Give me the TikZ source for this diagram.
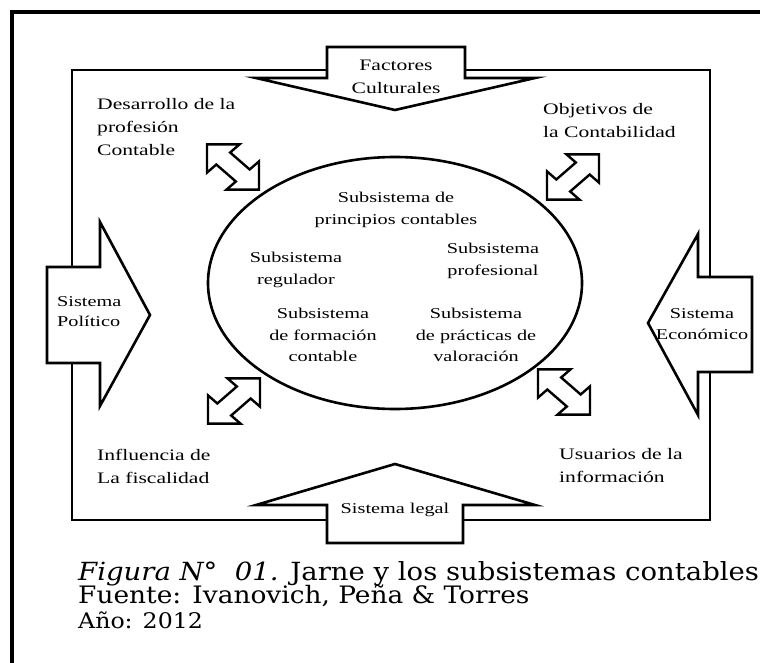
\documentclass[tikz,border=0pt]{standalone}
\usepackage{fontspec}
\setmainfont{DejaVu Serif}
\newfontfamily\diagfont[FakeStretch=1.35]{Liberation Serif}
\newfontfamily\capfont[FakeStretch=1.1]{DejaVu Serif}
\usepackage{tikz}
\usetikzlibrary{shapes.geometric}

\tikzset{
    pics/dblarrow/.style={code={
        \draw[fill=white,line width=2.4pt,line join=miter]
            (-32,0) -- (-12,20) -- (-12,8.5) -- (12,8.5) -- (12,20) -- (32,0)
            -- (12,-20) -- (12,-8.5) -- (-12,-8.5) -- (-12,-20) -- cycle;
    }}
}

\begin{document}
\begin{tikzpicture}[x=1pt,y=-1pt,
        innerframe/.style={draw,line width=2.6pt},
        blockarr/.style={draw,fill=white,line width=2.6pt,line join=miter},
        lbl/.style={font=\diagfont\fontsize{16}{23}\selectfont,inner sep=0pt,align=left},
        subtxt/.style={font=\diagfont\fontsize{15}{21.5}\selectfont,inner sep=0pt,align=center},
        captxt/.style={anchor=base west,inner sep=0pt}]
        \useasboundingbox (0,0) rectangle (760,663);

        % outer page frame
        \draw[line width=4.6pt] (12,663) -- (12,12) -- (760,12);

        \draw[innerframe] (72,70) rectangle (710,520);

        % block arrows of the four systems
        \draw[blockarr] (327,47) -- (465,47) -- (465,78) -- (535,78) -- (395,110) -- (256,78) -- (327,78) -- cycle;
        \draw[blockarr] (327,543) -- (463,543) -- (463,505) -- (535,505) -- (395,464) -- (256,505) -- (327,505) -- cycle;
        \draw[blockarr] (47,267) -- (100,267) -- (100,222) -- (150,315) -- (100,406) -- (100,363) -- (47,363) -- cycle;
        \draw[blockarr] (752,277) -- (698,277) -- (698,234) -- (648,323) -- (698,415) -- (698,372) -- (752,372) -- cycle;

        \node[lbl,align=center] (factores) at (396,77) {Factores\\Culturales};
        \node[lbl,anchor=west,font=\diagfont\fontsize{15}{20}\selectfont] (politico) at (57,312) {Sistema\\Político};
        \node[lbl,align=center,font=\diagfont\fontsize{15}{21}\selectfont] (economico) at (702,324) {Sistema\\Económico};
        \node[lbl,font=\diagfont\fontsize{15}{20}\selectfont] (legal) at (395,510) {Sistema legal};

        % accounting system
        \node[draw,ellipse,line width=2.6pt,minimum width=374pt,minimum height=252pt,inner sep=0pt] (contable) at (395,283) {};
        \node[subtxt] (principios) at (396,210) {Subsistema de\\principios contables};
        \node[subtxt] (regulador) at (296,270) {Subsistema\\regulador};
        \node[subtxt] (profesional) at (493,261) {Subsistema\\profesional};
        \node[subtxt] (formacion) at (323,335) {Subsistema\\de formación\\contable};
        \node[subtxt] (valoracion) at (476,335) {Subsistema\\de prácticas de\\valoración};

        \pic[xscale=1.15,rotate=-45] (arrNW) at (233,167) {dblarrow};
        \pic[xscale=1.15,rotate=45] (arrNE) at (573,177) {dblarrow};
        \pic[xscale=1.15,rotate=45] (arrSW) at (234,401) {dblarrow};
        \pic[xscale=1.15,rotate=-45] (arrSE) at (564,392) {dblarrow};

        \node[lbl,anchor=west] (desarrollo) at (97,127) {Desarrollo de la\\profesión\\Contable};
        \node[lbl,anchor=west] (objetivos) at (543,121) {Objetivos de\\la Contabilidad};
        \node[lbl,anchor=west] (influencia) at (97,466) {Influencia de\\La fiscalidad};
        \node[lbl,anchor=west] (usuarios) at (559,466) {Usuarios de la\\información};

        % caption
        \node[captxt,font=\capfont\fontsize{25}{28}\selectfont] (figura) at (78,580) {\textit{Figura N°\ \ 01.} Jarne y los subsistemas contables};
        \node[captxt,font=\capfont\fontsize{24}{26}\selectfont] (fuente) at (78,603) {Fuente: Ivanovich, Peña \& Torres};
        \node[captxt,font=\capfont\fontsize{21.5}{26}\selectfont] (anio) at (78,628) {Año: 2012};
\end{tikzpicture}
\end{document}
